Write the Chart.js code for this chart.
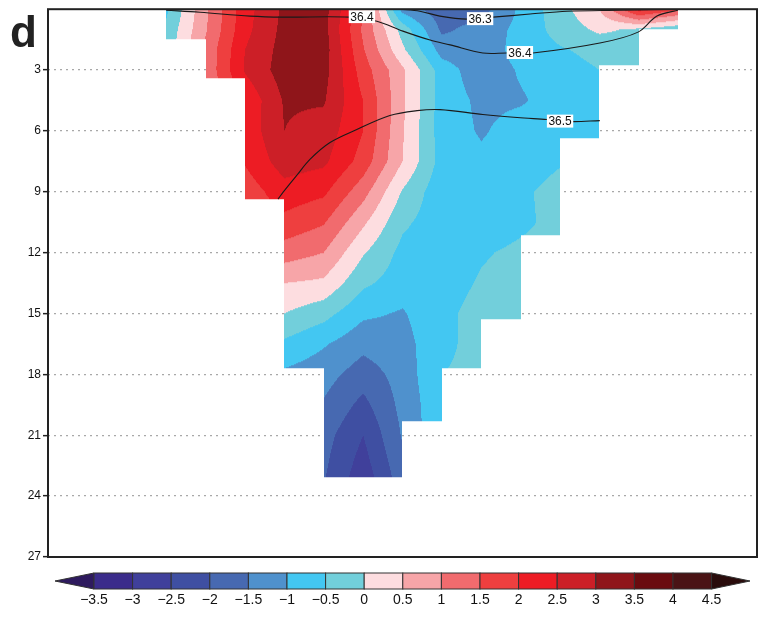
<!DOCTYPE html>
<html>
<head>
<meta charset="utf-8">
<script src="https://cdn.jsdelivr.net/npm/chart.js@4.4.0/dist/chart.umd.min.js"></script>
<style>
  html, body { margin: 0; padding: 0; background: #fff; }
  canvas { display: block; }
</style>
</head>
<body>
<canvas id="section" width="767" height="617"></canvas>
<script>
// depth levels of the grid rows (y axis units)
const depthLevels = [0, 1, 2, 3, 4.5, 6, 7.5, 9, 10.5, 12, 13.5, 15, 16.5, 18, 19.5, 21, 23];
// grid columns start at x = 3, one unit wide each; bottom depth of every column
const columnStart = 3;
const columnBottoms = [1.47, 3.38, 9.36, 17.69, 23.08, 23.08, 20.33, 17.69, 15.29, 11.12, 6.37, 2.74, 0.98];
// anomaly values at the grid nodes (row = depth level, col = column edge)
const anomaly = [
  [-0.6, 0.9, 2.3, 3.1, 3.2, 1.6, -1.2, -1.8, -1.7, -0.9, -0.2, 0.5, 2.2, 1.6],
  [-0.4, 0.95, 2.35, 3.15, 3.2, 1.4, -0.2, -1.6, -1.3, -0.85, -0.3, 0.1, -0.1, -0.4],
  [-0.3, 1.1, 2.5, 3.2, 3.25, 1.55, 0.1, -1.2, -1.3, -0.8, -0.55, -0.35, -0.2, -0.4],
  [null, 1.1, 2.55, 3.25, 3.2, 1.75, 0.6, -0.75, -1.3, -0.95, -0.7, -0.5, -0.4],
  [null, 1.0, 2.1, 3.05, 3.05, 2.0, 0.6, -0.75, -1.1, -1.05, -0.8, -0.7],
  [null, null, 2.15, 3.0, 2.8, 2.0, 0.55, -0.75, -1.05, -0.8, -0.75, -0.7],
  [null, null, 2.05, 2.75, 2.6, 1.8, 0.5, -0.7, -0.9, -0.8, -0.55, -0.6],
  [null, null, 1.7, 2.3, 2.1, 1.2, -0.05, -0.85, -0.9, -0.6, -0.3],
  [null, null, 1.6, 1.85, 1.55, 0.6, -0.4, -0.8, -0.8, -0.6, -0.35],
  [null, null, null, 1.25, 1.0, 0.05, -0.65, -0.8, -0.55, -0.4, -0.3],
  [null, null, null, 0.5, 0.4, -0.4, -0.75, -0.7, -0.45, -0.3],
  [null, null, null, 0.0, -0.32, -0.9, -1.05, -0.6, -0.35, -0.25],
  [null, null, null, -0.6, -0.95, -1.35, -1.2, -0.6, -0.35, -0.25],
  [null, null, null, -1.1, -1.3, -1.75, -1.3, -0.5, -0.4],
  [null, null, null, null, -1.55, -2.15, -1.35, -0.6],
  [null, null, null, null, -1.8, -2.5, -1.45, -0.55],
  [null, null, null, null, -1.95, -2.8, -1.7]
];

// shading levels and colours (first/last are the open ends)
const levelEdges = [-3.5, -3, -2.5, -2, -1.5, -1, -0.5, 0, 0.5, 1, 1.5, 2, 2.5, 3, 3.5, 4, 4.5];
const levelColors = ['#2e1a5e', '#3b2c8b', '#40409b', '#3f4fa2', '#4769b1', '#4f91cd', '#43c7f2', '#72cfdb',
  '#fddde0', '#f7a5a8', '#f16b6e', '#ee3f3f', '#ed1c24', '#cc1f27', '#8f151a', '#6a0b0f', '#4a1315', '#2a0c0c'];

const yTicks = [3, 6, 9, 12, 15, 18, 21, 24, 27];

// salinity contour lines
const s363X = [8.94, 9.44, 9.95, 10.64, 11.30, 12.24, 13.18, 14.52, 16.02];
const s363Y = [0, 0.1, 0.34, 0.49, 0.39, 0.24, 0.1, 0.05, 0];
const s364X = [3.0, 3.86, 5.13, 5.97, 7.64, 8.35, 9.01, 9.70, 10.21, 11.04, 11.65, 12.31, 14.01, 14.98, 15.46, 15.99];
const s364Y = [0.05, 0.15, 0.34, 0.39, 0.39, 0.59, 1.08, 1.52, 1.76, 2.16, 2.16, 2.16, 1.67, 1.13, 0.34, 0.05];
const s365X = [5.84, 5.97, 6.32, 6.65, 7.16, 7.84, 8.68, 9.37, 9.95, 11.04, 11.91, 12.67, 13.30, 14.01];
const s365Y = [9.36, 9.02, 8.18, 7.40, 6.57, 5.93, 5.24, 5.00, 4.95, 5.19, 5.34, 5.44, 5.54, 5.49];
const lineLabels = [
  { text: '36.4', x: 7.97, y: 0.39 },
  { text: '36.3', x: 10.97, y: 0.49 },
  { text: '36.4', x: 11.98, y: 2.16 },
  { text: '36.5', x: 13.0, y: 5.54 }
];

const FONT = "'Liberation Sans', Arial, sans-serif";

function toPoints(xs, ys) {
  return xs.map((x, i) => ({ x: x, y: ys[i] }));
}

function pick() {
  for (let i = 0; i < arguments.length; i++) {
    if (arguments[i] != null) return arguments[i];
  }
  return 0;
}

function valueAt(c, fx, d) {
  let r = 0;
  while (r < depthLevels.length - 2 && d > depthLevels[r + 1]) r++;
  const fy = Math.min(1, Math.max(0, (d - depthLevels[r]) / (depthLevels[r + 1] - depthLevels[r])));
  const a = anomaly[r][c], b = anomaly[r][c + 1], p = anomaly[r + 1][c], q = anomaly[r + 1][c + 1];
  const a0 = pick(a, b, p, q), b0 = pick(b, a, q, p), p0 = pick(p, q, a, b), q0 = pick(q, p, b, a);
  return (a0 * (1 - fx) + b0 * fx) * (1 - fy) + (p0 * (1 - fx) + q0 * fx) * fy;
}

function colorIndex(v) {
  let n = 0;
  for (let i = 0; i < levelEdges.length; i++) if (v >= levelEdges[i]) n++;
  return n;
}

const rgb = levelColors.map(h => [parseInt(h.slice(1, 3), 16), parseInt(h.slice(3, 5), 16), parseInt(h.slice(5, 7), 16)]);

// filled field, drawn cell by cell through the scales
const fieldPlugin = {
  id: 'field',
  beforeDatasetsDraw(chart) {
    const { ctx, chartArea: a, scales: { x, y } } = chart;
    const w = Math.round(a.right - a.left), h = Math.round(a.bottom - a.top);
    const off = document.createElement('canvas');
    off.width = w; off.height = h;
    const octx = off.getContext('2d');
    const img = octx.createImageData(w, h);
    for (let py = 0; py < h; py++) {
      const d = y.getValueForPixel(a.top + py + 0.5);
      for (let px = 0; px < w; px++) {
        const xv = x.getValueForPixel(a.left + px + 0.5) - columnStart;
        const c = Math.floor(xv);
        if (c < 0 || c >= columnBottoms.length || d > columnBottoms[c]) continue;
        const col = rgb[colorIndex(valueAt(c, xv - c, d))];
        const k = (py * w + px) * 4;
        img.data[k] = col[0]; img.data[k + 1] = col[1]; img.data[k + 2] = col[2]; img.data[k + 3] = 255;
      }
    }
    octx.putImageData(img, 0, 0);
    ctx.drawImage(off, a.left, a.top);
  },
  afterDatasetsDraw(chart) {
    const { ctx, scales: { x, y } } = chart;
    ctx.save();
    ctx.font = '12px ' + FONT;
    ctx.textAlign = 'center';
    ctx.textBaseline = 'middle';
    lineLabels.forEach(l => {
      const px = x.getPixelForValue(l.x), py = y.getPixelForValue(l.y);
      const tw = ctx.measureText(l.text).width;
      ctx.fillStyle = '#fff';
      ctx.fillRect(px - tw / 2 - 1.5, py - 7, tw + 3, 13);
      ctx.fillStyle = '#111';
      ctx.fillText(l.text, px, py + 0.5);
    });
    ctx.restore();
  },
  afterDraw(chart) {
    const { ctx, chartArea: a } = chart;
    ctx.save();
    // frame
    ctx.strokeStyle = '#222';
    ctx.lineWidth = 2;
    ctx.strokeRect(a.left, a.top, a.right - a.left, a.bottom - a.top);
    // panel letter
    ctx.fillStyle = '#222';
    ctx.font = 'bold 44px ' + FONT;
    ctx.textAlign = 'left';
    ctx.textBaseline = 'alphabetic';
    ctx.fillText('d', 10, 47);
    // colour bar
    const x0 = 94, bw = 38.6, top = 573, bh = 16;
    const n = levelEdges.length - 1;
    ctx.lineWidth = 1;
    ctx.strokeStyle = '#333';
    ctx.fillStyle = levelColors[0];
    ctx.beginPath();
    ctx.moveTo(x0, top); ctx.lineTo(55, top + bh / 2); ctx.lineTo(x0, top + bh); ctx.closePath();
    ctx.fill(); ctx.stroke();
    for (let i = 0; i < n; i++) {
      ctx.fillStyle = levelColors[i + 1];
      ctx.fillRect(x0 + i * bw, top, bw, bh);
      ctx.strokeRect(x0 + i * bw, top, bw, bh);
    }
    const xe = x0 + n * bw;
    ctx.fillStyle = levelColors[levelColors.length - 1];
    ctx.beginPath();
    ctx.moveTo(xe, top); ctx.lineTo(750, top + bh / 2); ctx.lineTo(xe, top + bh); ctx.closePath();
    ctx.fill(); ctx.stroke();
    ctx.fillStyle = '#111';
    ctx.font = '14px ' + FONT;
    ctx.textAlign = 'center';
    ctx.textBaseline = 'middle';
    levelEdges.forEach((v, i) => {
      const t = v < 0 ? '\u2212' + Math.abs(v) : String(v);
      ctx.fillText(t, x0 + i * bw, 600);
    });
    ctx.restore();
  }
};

const lineStyle = { showLine: true, borderColor: '#1a1a1a', borderWidth: 1.1, pointRadius: 0, tension: 0.35, fill: false };

new Chart(document.getElementById('section'), {
  type: 'scatter',
  data: {
    datasets: [
      Object.assign({ label: '36.3', data: toPoints(s363X, s363Y) }, lineStyle),
      Object.assign({ label: '36.4', data: toPoints(s364X, s364Y) }, lineStyle),
      Object.assign({ label: '36.5', data: toPoints(s365X, s365Y) }, lineStyle)
    ]
  },
  options: {
    responsive: false,
    animation: false,
    events: [],
    layout: { padding: { left: 0, top: 6, right: 10, bottom: 60 } },
    plugins: { legend: { display: false }, tooltip: { enabled: false } },
    scales: {
      x: { type: 'linear', min: 0, max: 18, display: false },
      y: {
        type: 'linear',
        reverse: true,
        min: 0,
        max: 27,
        afterFit: function(s) { s.width = 48; },
        afterBuildTicks: function(s) { s.ticks = yTicks.map(v => ({ value: v })); },
        ticks: { font: { family: FONT, size: 12 }, color: '#111', padding: 2 },
        grid: {
          color: c => (c.tick && c.tick.value === 27) ? 'rgba(0,0,0,0)' : '#a8a8a8',
          tickColor: '#222',
          tickLength: 5,
          lineWidth: 1.3,
          tickWidth: 1.5
        },
        border: { display: false, dash: [2, 4] }
      }
    }
  },
  plugins: [fieldPlugin]
});
</script>
</body>
</html>
